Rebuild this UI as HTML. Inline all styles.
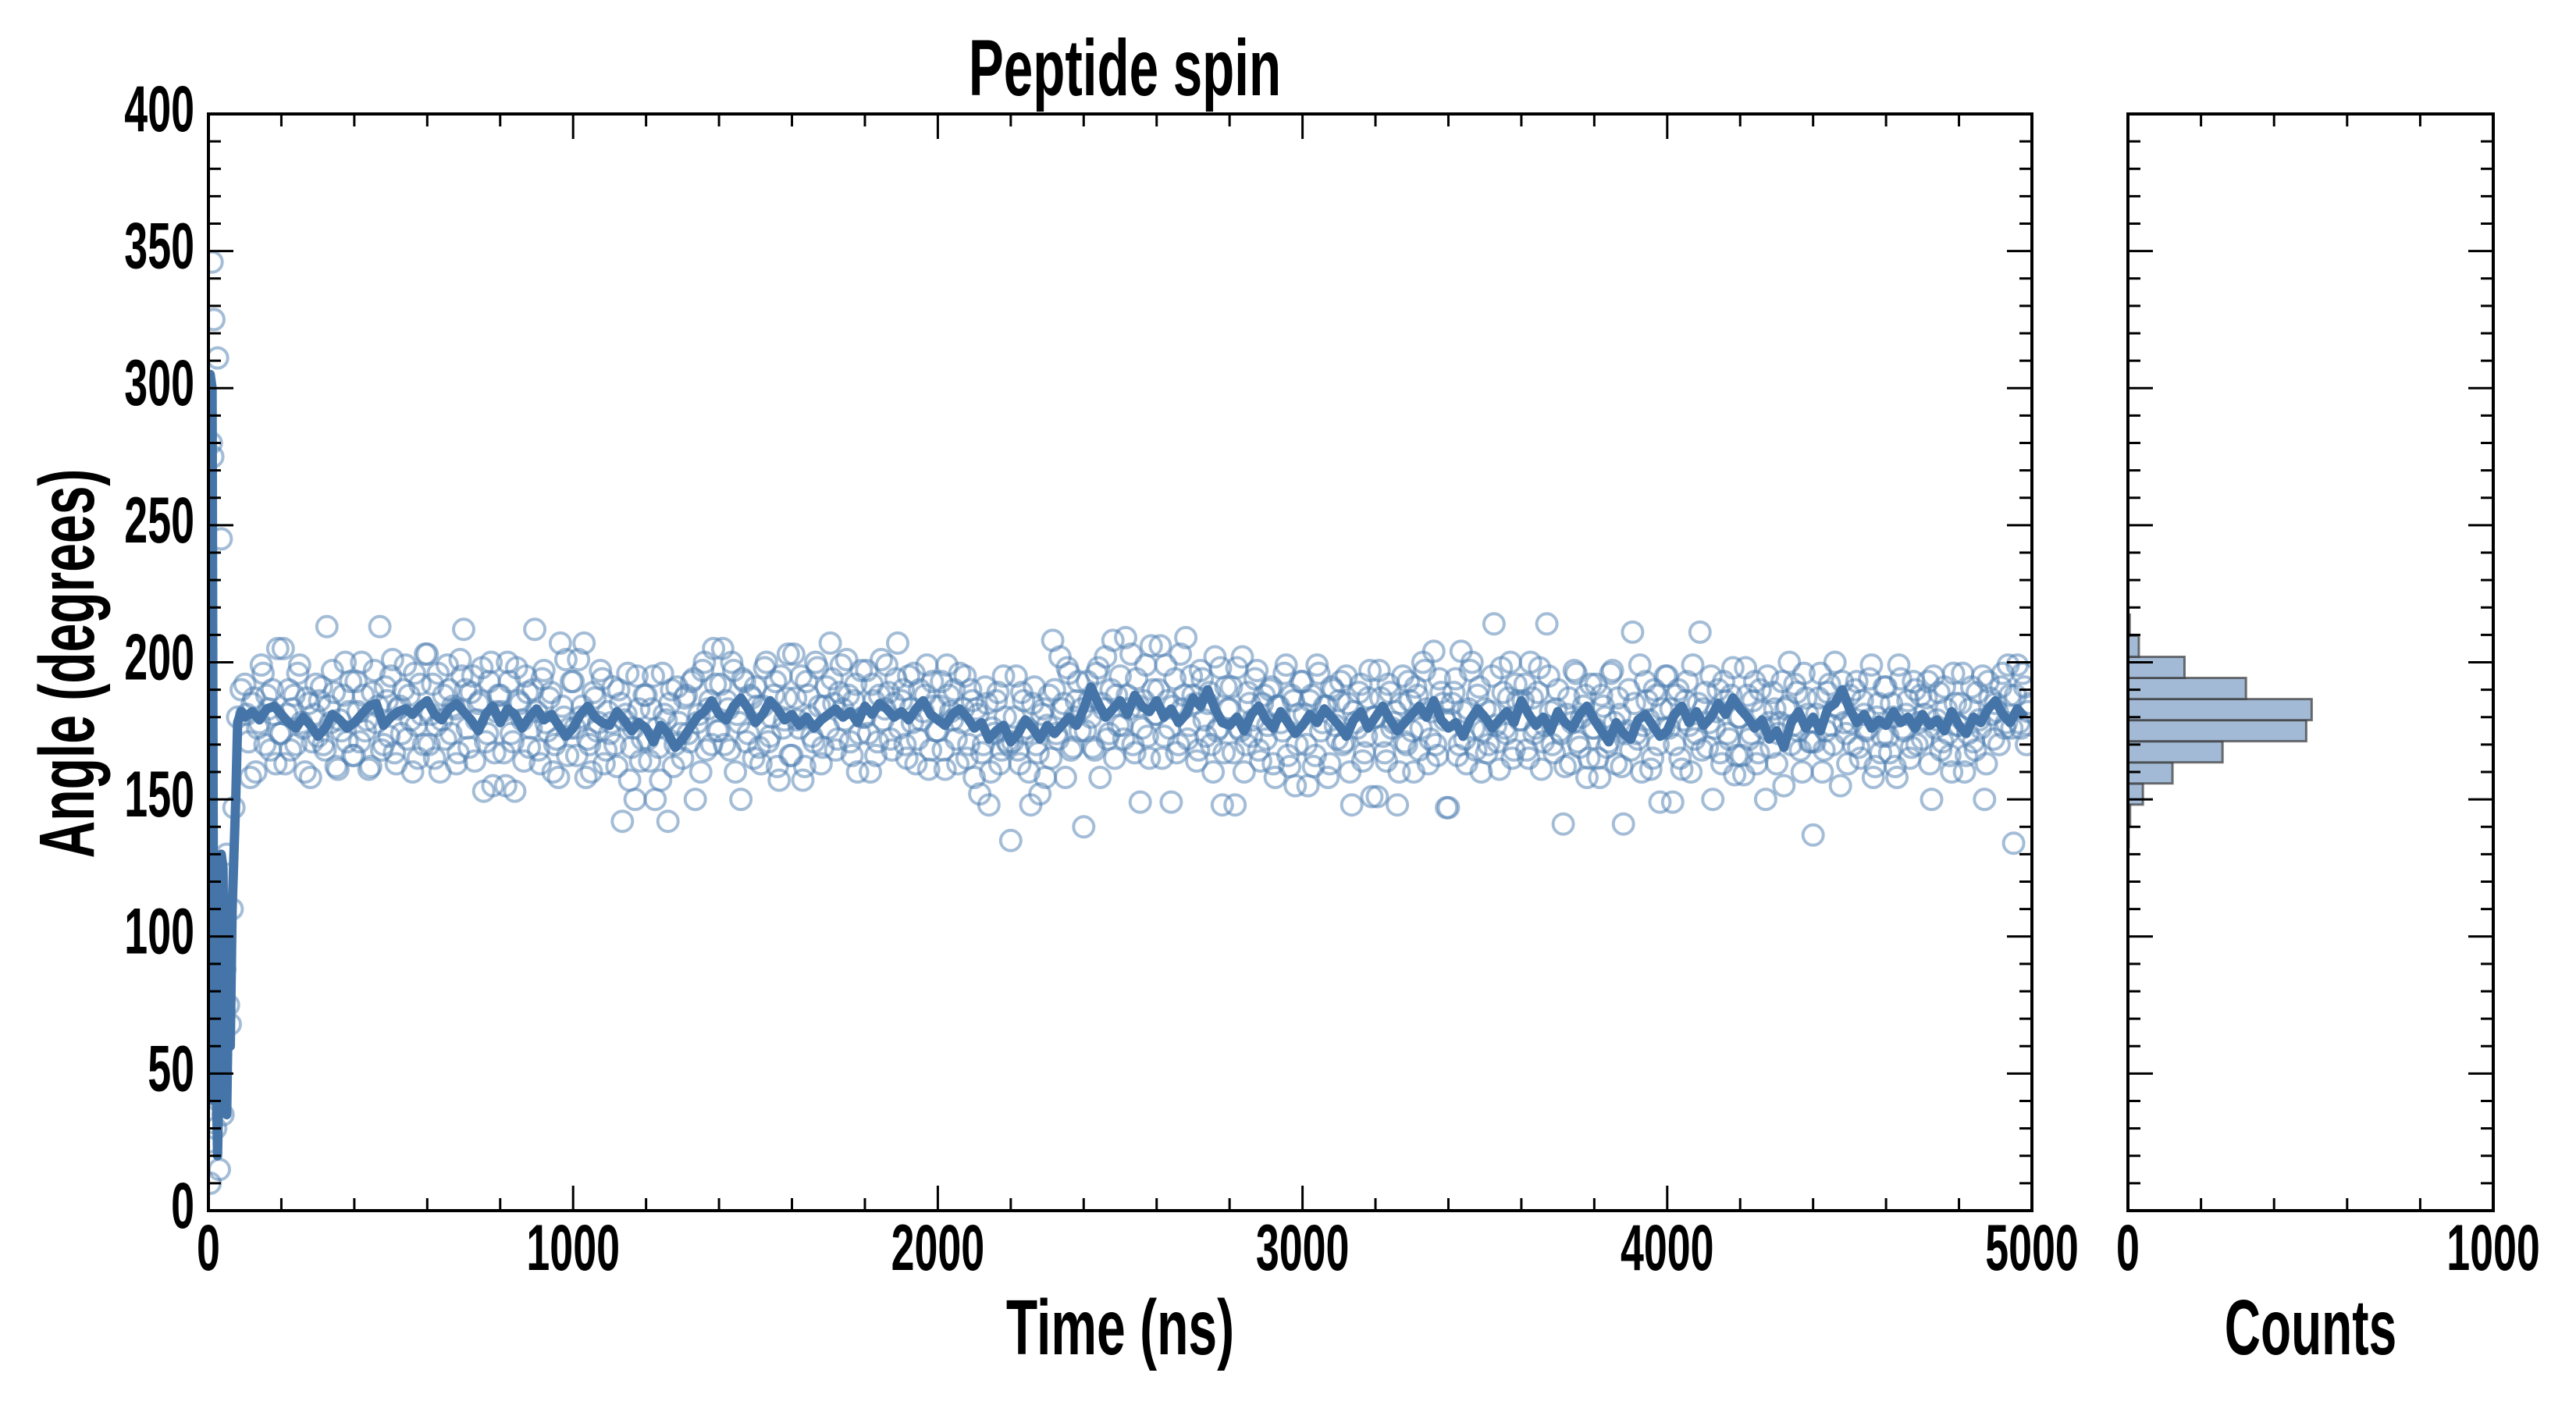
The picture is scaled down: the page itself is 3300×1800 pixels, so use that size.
<!DOCTYPE html>
<html><head><meta charset="utf-8"><style>
html,body{margin:0;padding:0;background:#fff;}
svg{display:block;}
text{font-family:"Liberation Sans Narrow","Liberation Sans",sans-serif;font-weight:bold;fill:#000;}
</style></head>
<body>
<svg id="chart" width="3300" height="1800" viewBox="0 0 3300 1800" xmlns="http://www.w3.org/2000/svg">
<rect x="0" y="0" width="3300" height="1800" fill="#fff"/>
<g id="main-marks"></g>
<g id="hist-marks"></g>
<g id="axes"></g>
<text x="1441" y="122" font-size="102" text-anchor="middle" transform="translate(1441,0) scale(0.66,1) translate(-1441,0)">Peptide spin</text>
<text x="1435" y="1735" font-size="100" text-anchor="middle" transform="translate(1435,0) scale(0.66,1) translate(-1435,0)">Time (ns)</text>
<text x="2960" y="1735" font-size="100" text-anchor="middle" transform="translate(2960,0) scale(0.64,1) translate(-2960,0)">Counts</text>
<text x="0" y="0" font-size="100" text-anchor="middle" transform="translate(120,850) rotate(-90) scale(0.66,1)">Angle (degrees)</text>
</svg>
<script>
// ---- data ----
const lineEarlyTimes = [0,5,10,15,20,25,30,35,40,45,50,55,60,65,70,75,80,90];
const lineEarlyAngles = [280,305,300,40,60,20,55,130,125,45,35,80,60,110,130,150,178,182];
const lineStart = 100, lineStep = 20;
const lineAngles = [
180,182,179,183,184,181,178,176,180,177,173,176,181,179,176,178,181,184,185,177,
180,182,183,181,184,186,181,179,183,185,182,179,175,181,184,178,183,181,176,180,
183,179,181,177,173,176,181,184,180,178,177,182,179,175,178,176,171,177,174,169,
172,176,180,182,186,181,179,184,187,183,178,181,186,183,179,181,177,180,176,179,
181,183,180,182,178,184,181,185,183,180,182,179,183,186,181,179,177,181,183,180,
176,178,172,175,177,171,174,179,176,172,177,174,177,180,177,183,191,185,180,183,
186,181,188,184,182,186,180,183,178,181,187,184,190,183,178,177,180,175,181,184,
179,176,182,178,174,177,181,178,183,180,177,173,179,182,176,180,184,179,175,178,
181,184,180,186,179,176,178,173,179,183,180,176,179,182,178,186,181,177,180,175,
182,178,176,181,184,179,175,171,178,174,172,179,181,177,173,175,181,184,178,182,
177,180,185,181,187,183,180,176,179,172,175,169,178,182,176,180,175,183,185,190,
183,178,181,176,179,177,182,178,180,176,181,177,179,175,182,177,174,180,178,183,
186,181,178,183,180];
const scatterEarlyTimes = [0,5,8,10,12,15,18,20,22,25,28,30,32,35,38,40,45,50,55,60,65,70,80,90];
const scatterEarlyAngles = [25,10,280,346,275,325,60,30,45,311,40,15,50,245,70,35,88,130,75,68,110,147,180,190];
const scatterStart = 100, scatterStep = 10;
const scatterAngles = [
192,171,185,160,178,196,188,168,181,205,174,163,190,183,170,199,176,187,158,181,
173,191,168,184,197,162,179,188,171,193,166,182,200,175,161,189,178,213,170,186,
195,167,183,174,199,188,160,177,192,170,203,181,165,196,179,172,190,184,163,201,
212,176,189,164,185,198,171,193,155,182,188,167,200,174,153,186,179,195,169,190,
182,163,197,175,189,170,158,184,201,176,193,166,180,207,172,160,187,178,194,168,
174,191,162,185,179,196,169,150,183,172,188,164,195,176,157,181,142,190,170,178,
165,188,171,194,178,160,200,183,170,192,175,205,186,168,197,181,150,193,174,187,
191,169,184,200,173,188,162,195,179,203,166,187,176,157,193,180,171,198,163,184,
176,194,168,189,183,201,171,186,160,197,180,174,192,166,188,179,199,172,185,207,
186,170,195,178,163,190,182,199,168,184,175,193,161,188,179,172,196,183,165,190,
158,181,167,191,148,176,186,163,195,171,135,180,168,189,174,160,185,170,152,183,
177,165,190,172,183,158,196,169,186,175,140,193,180,168,198,185,202,174,208,188,
195,172,188,203,167,184,176,199,165,190,181,206,173,186,149,194,170,183,209,177,
188,164,197,179,185,170,202,176,148,191,183,167,198,175,160,189,173,194,168,185,
172,190,163,184,178,196,166,188,155,181,193,170,186,162,199,175,184,158,191,177,
186,170,195,160,182,176,192,167,187,151,180,197,173,164,189,178,148,185,171,193,
175,191,168,200,183,172,204,166,189,179,147,185,194,170,182,163,197,176,188,160,
183,170,195,177,161,189,174,200,168,186,179,192,165,187,176,198,171,214,182,167,
190,174,162,187,178,196,169,184,158,192,176,165,188,180,171,197,163,181,141,175,
168,185,172,160,193,179,165,188,149,176,195,183,170,190,161,186,177,199,174,211,
183,169,195,176,190,163,186,172,198,166,180,159,188,174,193,167,182,150,178,189,
163,178,155,184,170,192,175,160,187,171,137,181,196,168,189,177,200,183,193,174,
188,170,193,165,181,176,199,162,185,173,191,167,180,158,194,175,186,169,190,178,
172,187,163,195,179,168,191,174,160,185,177,196,166,183,171,189,176,150,193,181,
185,170,196,178,188,134,199,176,191,182];
const scatterStart2 = 105;
const scatterAngles2 = [
181,158,187,176,199,170,183,190,163,174,205,181,168,188,196,178,160,185,171,192,
186,170,213,178,189,161,175,200,182,166,193,171,188,179,162,197,184,168,191,173,
201,163,184,190,172,179,196,165,181,203,170,192,177,160,188,199,174,183,167,195,
190,169,195,179,186,153,174,200,167,188,182,155,193,171,198,185,164,189,176,212,
168,194,178,187,160,172,207,180,166,193,176,201,184,158,170,189,175,197,163,182,
178,170,190,142,181,157,176,195,164,188,172,183,150,169,196,179,185,162,191,174,
187,174,193,150,181,197,168,186,205,175,192,170,183,200,160,178,194,171,188,165,
184,163,198,171,180,193,157,176,187,166,203,179,195,162,188,173,200,184,169,191,
207,185,172,199,179,188,166,192,174,180,197,160,186,171,201,183,189,168,194,176,
190,165,183,196,172,179,188,161,193,175,184,168,199,182,190,163,178,195,170,186,
183,152,170,185,160,174,189,168,180,170,171,195,163,186,176,148,191,167,181,158,
188,208,174,202,185,198,168,180,193,183,175,186,169,196,158,183,172,190,165,177,
177,209,183,170,194,149,186,173,206,181,190,165,199,176,184,167,203,188,172,195,
185,168,194,173,189,160,175,198,167,183,191,148,176,202,170,185,179,197,164,188,
177,191,158,184,175,199,162,186,170,193,181,155,188,166,196,178,184,163,190,172,
193,171,185,148,178,189,164,173,197,180,151,187,167,192,176,182,160,195,170,186,
160,188,176,197,163,182,170,194,185,147,179,189,166,204,172,183,200,168,191,175,
167,182,214,171,198,176,187,165,192,179,186,168,200,174,189,161,177,195,170,183,
175,141,181,163,197,171,180,188,165,176,192,158,184,169,196,178,187,162,174,190,
211,174,199,177,186,161,190,170,183,195,176,149,188,165,179,193,160,172,185,168,
189,178,150,182,167,193,174,188,159,180,166,198,172,186,163,190,176,195,169,183,
174,193,183,200,177,189,168,196,181,171,171,187,160,175,192,170,184,155,178,163,
178,190,169,186,175,194,158,180,167,191,173,185,162,199,176,181,165,193,170,188,
181,193,150,176,189,171,183,166,196,177,185,160,174,191,168,179,195,163,187,172,
182,191,176,199,176,188,178,196,170,185];
const histBinStart = 132.7, histBinWidth = 7.7;
const histCounts = [2,6,41,122,259,488,503,323,155,30,5];
const xTickLabels = ["0","1000","2000","3000","4000","5000"];
const yTickLabels = ["0","50","100","150","200","250","300","350","400"];
const histTickLabels = ["0","1000"];

// ---- axes functions ----
const M = {l:267, r:2603, t:146, b:1551};
const H = {l:2726, r:3194};
const xS = t => M.l + (t/5000)*(M.r-M.l);
const yS = a => M.b - (a/400)*(M.b-M.t);
const hS = c => H.l + (c/1000)*(H.r-H.l);
const NS = "http://www.w3.org/2000/svg";
function mk(tag, attrs, parent){ const e=document.createElementNS(NS,tag); for(const k in attrs) e.setAttribute(k,attrs[k]); parent.appendChild(e); return e; }

const mainG = document.getElementById('main-marks');
const histG = document.getElementById('hist-marks');
const axG = document.getElementById('axes');
const clip = mk('clipPath',{id:'mclip'},document.getElementById('chart'));
mk('rect',{x:M.l,y:M.t,width:M.r-M.l,height:M.b-M.t},clip);
mainG.setAttribute('clip-path','url(#mclip)');

// scatter
const scatterG = mk('g',{},mainG);


function addPt(t,a){
  const c = mk('circle',{cx:xS(t).toFixed(1),cy:yS(a).toFixed(1),r:13,fill:'none',stroke:'#4a7bb0','stroke-width':4,'stroke-opacity':0.5},scatterG);
  
  
}
scatterEarlyTimes.forEach((t,i)=>addPt(t,scatterEarlyAngles[i]));
scatterAngles.forEach((a,i)=>addPt(scatterStart+i*scatterStep,a));
scatterAngles2.forEach((a,i)=>addPt(scatterStart2+i*scatterStep,a));

// line
let pts = lineEarlyTimes.map((t,i)=>xS(t).toFixed(1)+','+yS(lineEarlyAngles[i]).toFixed(1));
lineAngles.forEach((a,i)=>pts.push(xS(lineStart+i*lineStep).toFixed(1)+','+yS(a).toFixed(1)));
const ln = mk('polyline',{points:pts.join(' '),fill:'none',stroke:'#4575a8','stroke-width':12,'stroke-linejoin':'round'},mainG);



// histogram
histCounts.forEach((c,i)=>{
  const lo = histBinStart+i*histBinWidth, hi = lo+histBinWidth;
  const r = mk('rect',{x:H.l,y:yS(hi).toFixed(1),width:Math.max(hS(c)-H.l,0.5).toFixed(1),height:(yS(lo)-yS(hi)).toFixed(1),fill:'#a2bad5',stroke:'#3a3a3a','stroke-opacity':0.7,'stroke-width':3},histG);
  
  
});

// axes frames & ticks
function frame(x0,x1,name){
  const r = mk('rect',{x:x0,y:M.t,width:x1-x0,height:M.b-M.t,fill:'none',stroke:'#000','stroke-width':4},axG);
  
  
}
frame(M.l,M.r,'main-axes-frame');
frame(H.l,H.r,'hist-axes-frame');
function tk(x1,y1,x2,y2){ mk('line',{x1,y1,x2,y2,stroke:'#000','stroke-width':3},axG); }
for(let a=0;a<=400;a+=10){
  const y=yS(a), L=(a%50===0)?32:16;
  tk(M.l,y,M.l+L,y); tk(M.r,y,M.r-L,y);
  tk(H.l,y,H.l+L,y); tk(H.r,y,H.r-L,y);
}
for(let t=0;t<=5000;t+=200){
  const x=xS(t), L=(t%1000===0)?32:16;
  tk(x,M.b,x,M.b-L); tk(x,M.t,x,M.t+L);
}
for(let c=0;c<=1000;c+=200){
  const x=hS(c), L=(c%1000===0)?32:16;
  tk(x,M.b,x,M.b-L); tk(x,M.t,x,M.t+L);
}
function label(txt,x,y,anchor,name){
  const t = mk('text',{x:x,y:y,'font-size':84,'text-anchor':anchor,transform:`translate(${x},0) scale(0.64,1) translate(${-x},0)`},axG);
  t.textContent = txt;
  
  
}
xTickLabels.forEach((s,i)=>label(s,xS(i*1000),1627,'middle','x-tick-label'));
yTickLabels.forEach((s,i)=>label(s,249,yS(i*50)+22,'end','y-tick-label'));
histTickLabels.forEach((s,i)=>label(s,hS(i*1000),1627,'middle','hist-x-tick-label'));
</script>
</body></html>
